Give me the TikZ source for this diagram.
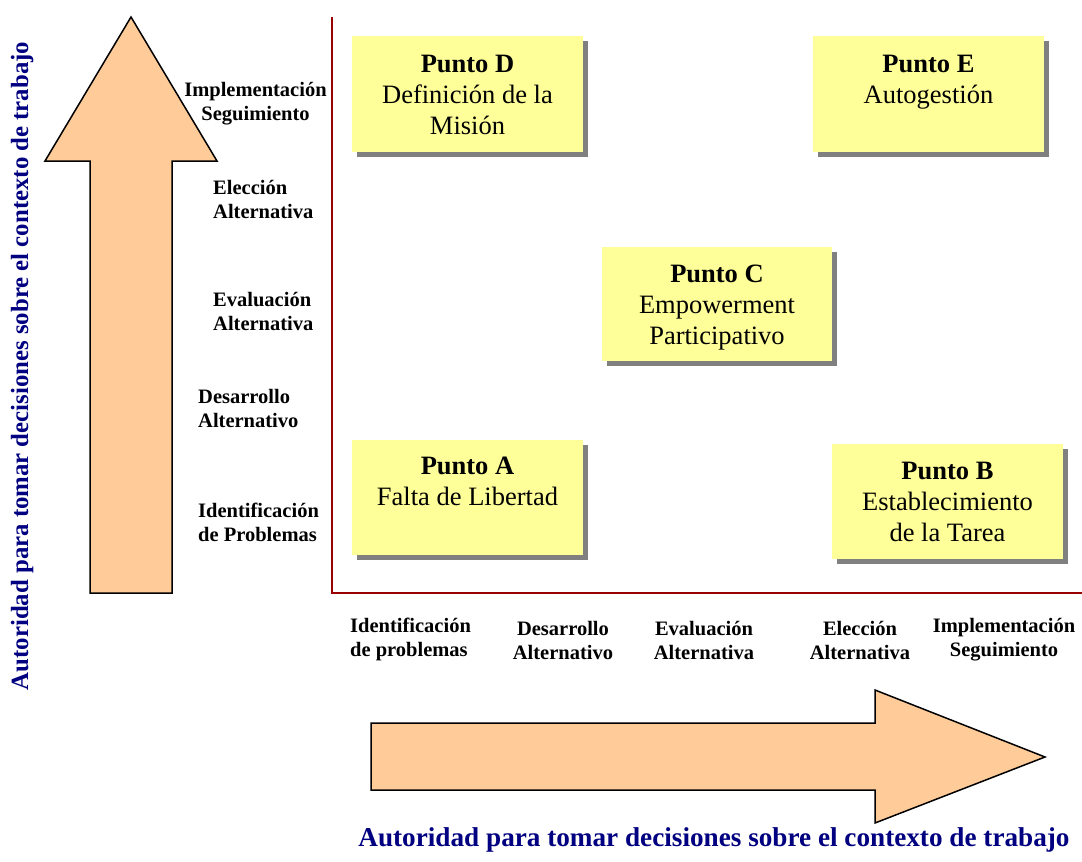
\documentclass[tikz,border=0pt]{standalone}
\usepackage{fontspec}
\setmainfont{Liberation Serif}
\usetikzlibrary{shadows}
\definecolor{peach}{HTML}{FFCC99}
\definecolor{notey}{HTML}{FFFF99}
\definecolor{shadowgray}{HTML}{808080}
\definecolor{titleblue}{HTML}{000080}
\definecolor{axisred}{HTML}{990000}
% strut that fixes the height of the first line of a node
\newcommand{\firstline}[1]{\rule{0pt}{#1}}
\begin{document}
\begin{tikzpicture}[x=1pt,y=-1pt,
  bigarrow/.style={fill=peach,draw=black,line width=1.5pt,line join=miter},
  axisline/.style={draw=axisred,line width=2pt},
  notebox/.style={fill=notey,inner sep=0pt,
    drop shadow={shadow xshift=5pt,shadow yshift=-5pt,fill=shadowgray,opacity=1}},
  notetext/.style={anchor=north,align=center,inner sep=0pt,
    font=\fontsize{26.5}{31}\selectfont},
  steplabel/.style={inner sep=0pt,font=\fontsize{20.5}{24}\selectfont\bfseries},
  axistitle/.style={inner sep=0pt,text=titleblue,anchor=base}
]
\useasboundingbox (0,0) rectangle (1082,862);

% vertical block arrow
\draw[bigarrow] (90,593) -- (90,161) -- (45,161) -- (131,17) -- (217,161)
  -- (172,161) -- (172,593) -- cycle;
% horizontal block arrow
\draw[bigarrow] (371,723) -- (875,723) -- (875,690) -- (1045,757)
  -- (875,823) -- (875,790) -- (371,790) -- cycle;

% axes of the grid
\draw[axisline] (332,17) -- (332,593) -- (1082,593);

% note boxes
\node[notebox,minimum width=231pt,minimum height=116pt] (boxD) at (467.5,94) {};
\node[notetext] (txtD) at (467.5,47.8)
  {\firstline{24pt}\textbf{Punto D}\\Definición de la\\Misión};

\node[notebox,minimum width=231pt,minimum height=116pt] (boxE) at (928.5,94) {};
\node[notetext] (txtE) at (928.5,47.8)
  {\firstline{24pt}\textbf{Punto E}\\Autogestión};

\node[notebox,minimum width=230pt,minimum height=114pt] (boxC) at (717,304) {};
\node[notetext] (txtC) at (717,257.8)
  {\firstline{24pt}\textbf{Punto C}\\Empowerment\\Participativo};

\node[notebox,minimum width=231pt,minimum height=115pt] (boxA) at (467.5,497.5) {};
\node[notetext] (txtA) at (467.5,449.8)
  {\firstline{24pt}\textbf{Punto A}\\Falta de Libertad};

\node[notebox,minimum width=231pt,minimum height=115pt] (boxB) at (947.5,501.5) {};
\node[notetext] (txtB) at (947.5,454.8)
  {\firstline{24pt}\textbf{Punto B}\\Establecimiento\\de la Tarea};

% vertical scale labels
\node[steplabel,anchor=north,align=center] (v5) at (255.5,76.8)
  {\firstline{19pt}Implementación\\Seguimiento};
\node[steplabel,anchor=north west,align=left] (v4) at (213,174.8)
  {\firstline{19pt}Elección\\Alternativa};
\node[steplabel,anchor=north west,align=left] (v3) at (213,286.8)
  {\firstline{19pt}Evaluación\\Alternativa};
\node[steplabel,anchor=north west,align=left] (v2) at (198,383.8)
  {\firstline{19pt}Desarrollo\\Alternativo};
\node[steplabel,anchor=north west,align=left] (v1) at (198,497.8)
  {\firstline{19pt}Identificación\\de Problemas};

% horizontal scale labels
\node[steplabel,anchor=north west,align=left] (h1) at (350,612.8)
  {\firstline{19pt}Identificación\\de problemas};
\node[steplabel,anchor=north,align=center] (h2) at (563,615.8)
  {\firstline{19pt}Desarrollo\\Alternativo};
\node[steplabel,anchor=north,align=center] (h3) at (704,615.8)
  {\firstline{19pt}Evaluación\\Alternativa};
\node[steplabel,anchor=north,align=center] (h4) at (860,615.8)
  {\firstline{19pt}Elección\\Alternativa};
\node[steplabel,anchor=north,align=center] (h5) at (1004,612.8)
  {\firstline{19pt}Implementación\\Seguimiento};

% axis titles
\node[axistitle,font=\fontsize{27.2}{30}\selectfont\bfseries] (xtitle) at (714,846)
  {Autoridad para tomar decisiones sobre el contexto de trabajo};
\node[axistitle,rotate=90,font=\fontsize{24.8}{28}\selectfont\bfseries] (ytitle) at (28,366)
  {Autoridad para tomar decisiones sobre el contexto de trabajo};
\end{tikzpicture}
\end{document}
